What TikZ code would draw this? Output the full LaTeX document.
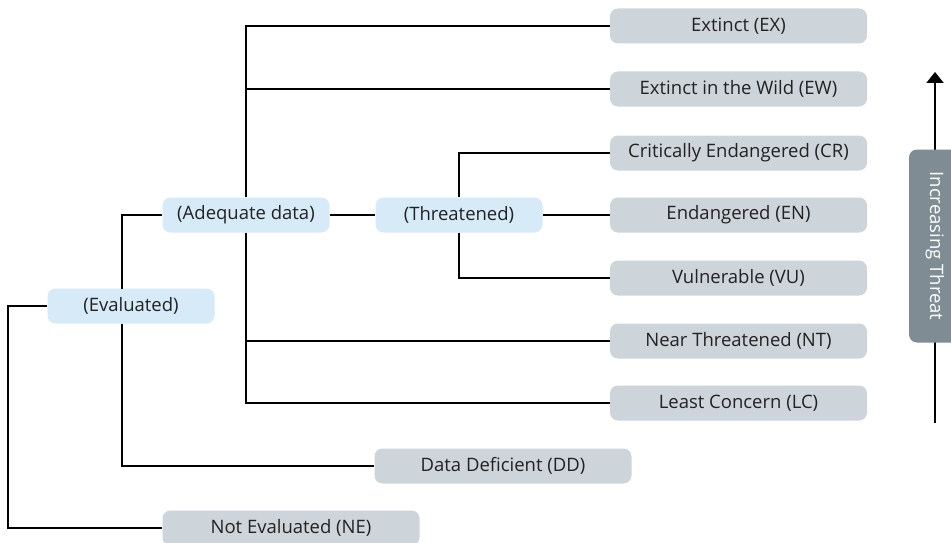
\documentclass[tikz,border=0pt]{standalone}
\usepackage{fontspec}
\setmainfont{Open Sans}
\usetikzlibrary{arrows.meta}
\definecolor{bluebox}{RGB}{214,234,248}
\definecolor{graybox}{RGB}{205,212,218}
\definecolor{darkbox}{RGB}{127,140,148}
\definecolor{txt}{RGB}{34,34,34}
\tikzset{
  lbl/.style={font=\fontsize{18.5}{20}\selectfont},
  catbox/.style={lbl,fill=graybox,rounded corners=8pt,minimum width=257pt,minimum height=35pt,inner sep=0pt,text=txt},
  grpbox/.style={lbl,fill=bluebox,rounded corners=8pt,minimum width=167pt,minimum height=35pt,inner sep=0pt,text=txt},
  conn/.style={line width=2pt,draw=black},
}
\begin{document}
\begin{tikzpicture}[x=1pt,y=-1pt]
\clip (0,0) rectangle (951,543);
\useasboundingbox (0,0) rectangle (951,543);
% nodes
\node[catbox] (ex) at (738.5,26) {Extinct (EX)};
\node[catbox] (ew) at (738.5,89) {Extinct in the Wild (EW)};
\node[catbox] (cr) at (738.5,153) {Critically Endangered (CR)};
\node[catbox] (en) at (738.5,215) {Endangered (EN)};
\node[catbox] (vu) at (738.5,278) {Vulnerable (VU)};
\node[catbox] (nt) at (738.5,341) {Near Threatened (NT)};
\node[catbox] (lc) at (738.5,403) {Least Concern (LC)};
\node[catbox] (dd) at (503,466) {Data Deficient (DD)};
\node[catbox] (ne) at (291,528) {Not Evaluated (NE)};
\node[grpbox] (ev) at (131,306) {(Evaluated)};
\node[grpbox] (ad) at (246,215) {(Adequate data)};
\node[grpbox] (th) at (459,215) {(Threatened)};
\coordinate (root) at (8,306);
\coordinate (evt) at (122,288.5);
\coordinate (evb) at (122,323.5);
% connectors
\draw[conn] (ev.west) -- (root) |- (ne.west);
\draw[conn] (evb) |- (dd.west);
\draw[conn] (evt) |- (ad.west);
\draw[conn] (ad.east) -- (th.west);
\draw[conn] (ad.north) |- (ew.west);
\draw[conn] (ad.north) |- (ex.west);
\draw[conn] (ad.south) |- (nt.west);
\draw[conn] (ad.south) |- (lc.west);
\draw[conn] (th.north) |- (cr.west);
\draw[conn] (th.east) -- (en.west);
\draw[conn] (th.south) |- (vu.west);
% threat arrow
\coordinate (abot) at (935,423);
\coordinate (atop) at (935,72);
\draw[line width=2pt,-{Triangle[length=11pt,width=17pt]}] (abot) -- (atop);
\node[lbl,fill=darkbox,rounded corners=8pt,minimum width=193pt,minimum height=52pt,inner sep=0pt,rotate=-90,text=white] (thr) at (935,246) {Increasing Threat};
\end{tikzpicture}
\end{document}
